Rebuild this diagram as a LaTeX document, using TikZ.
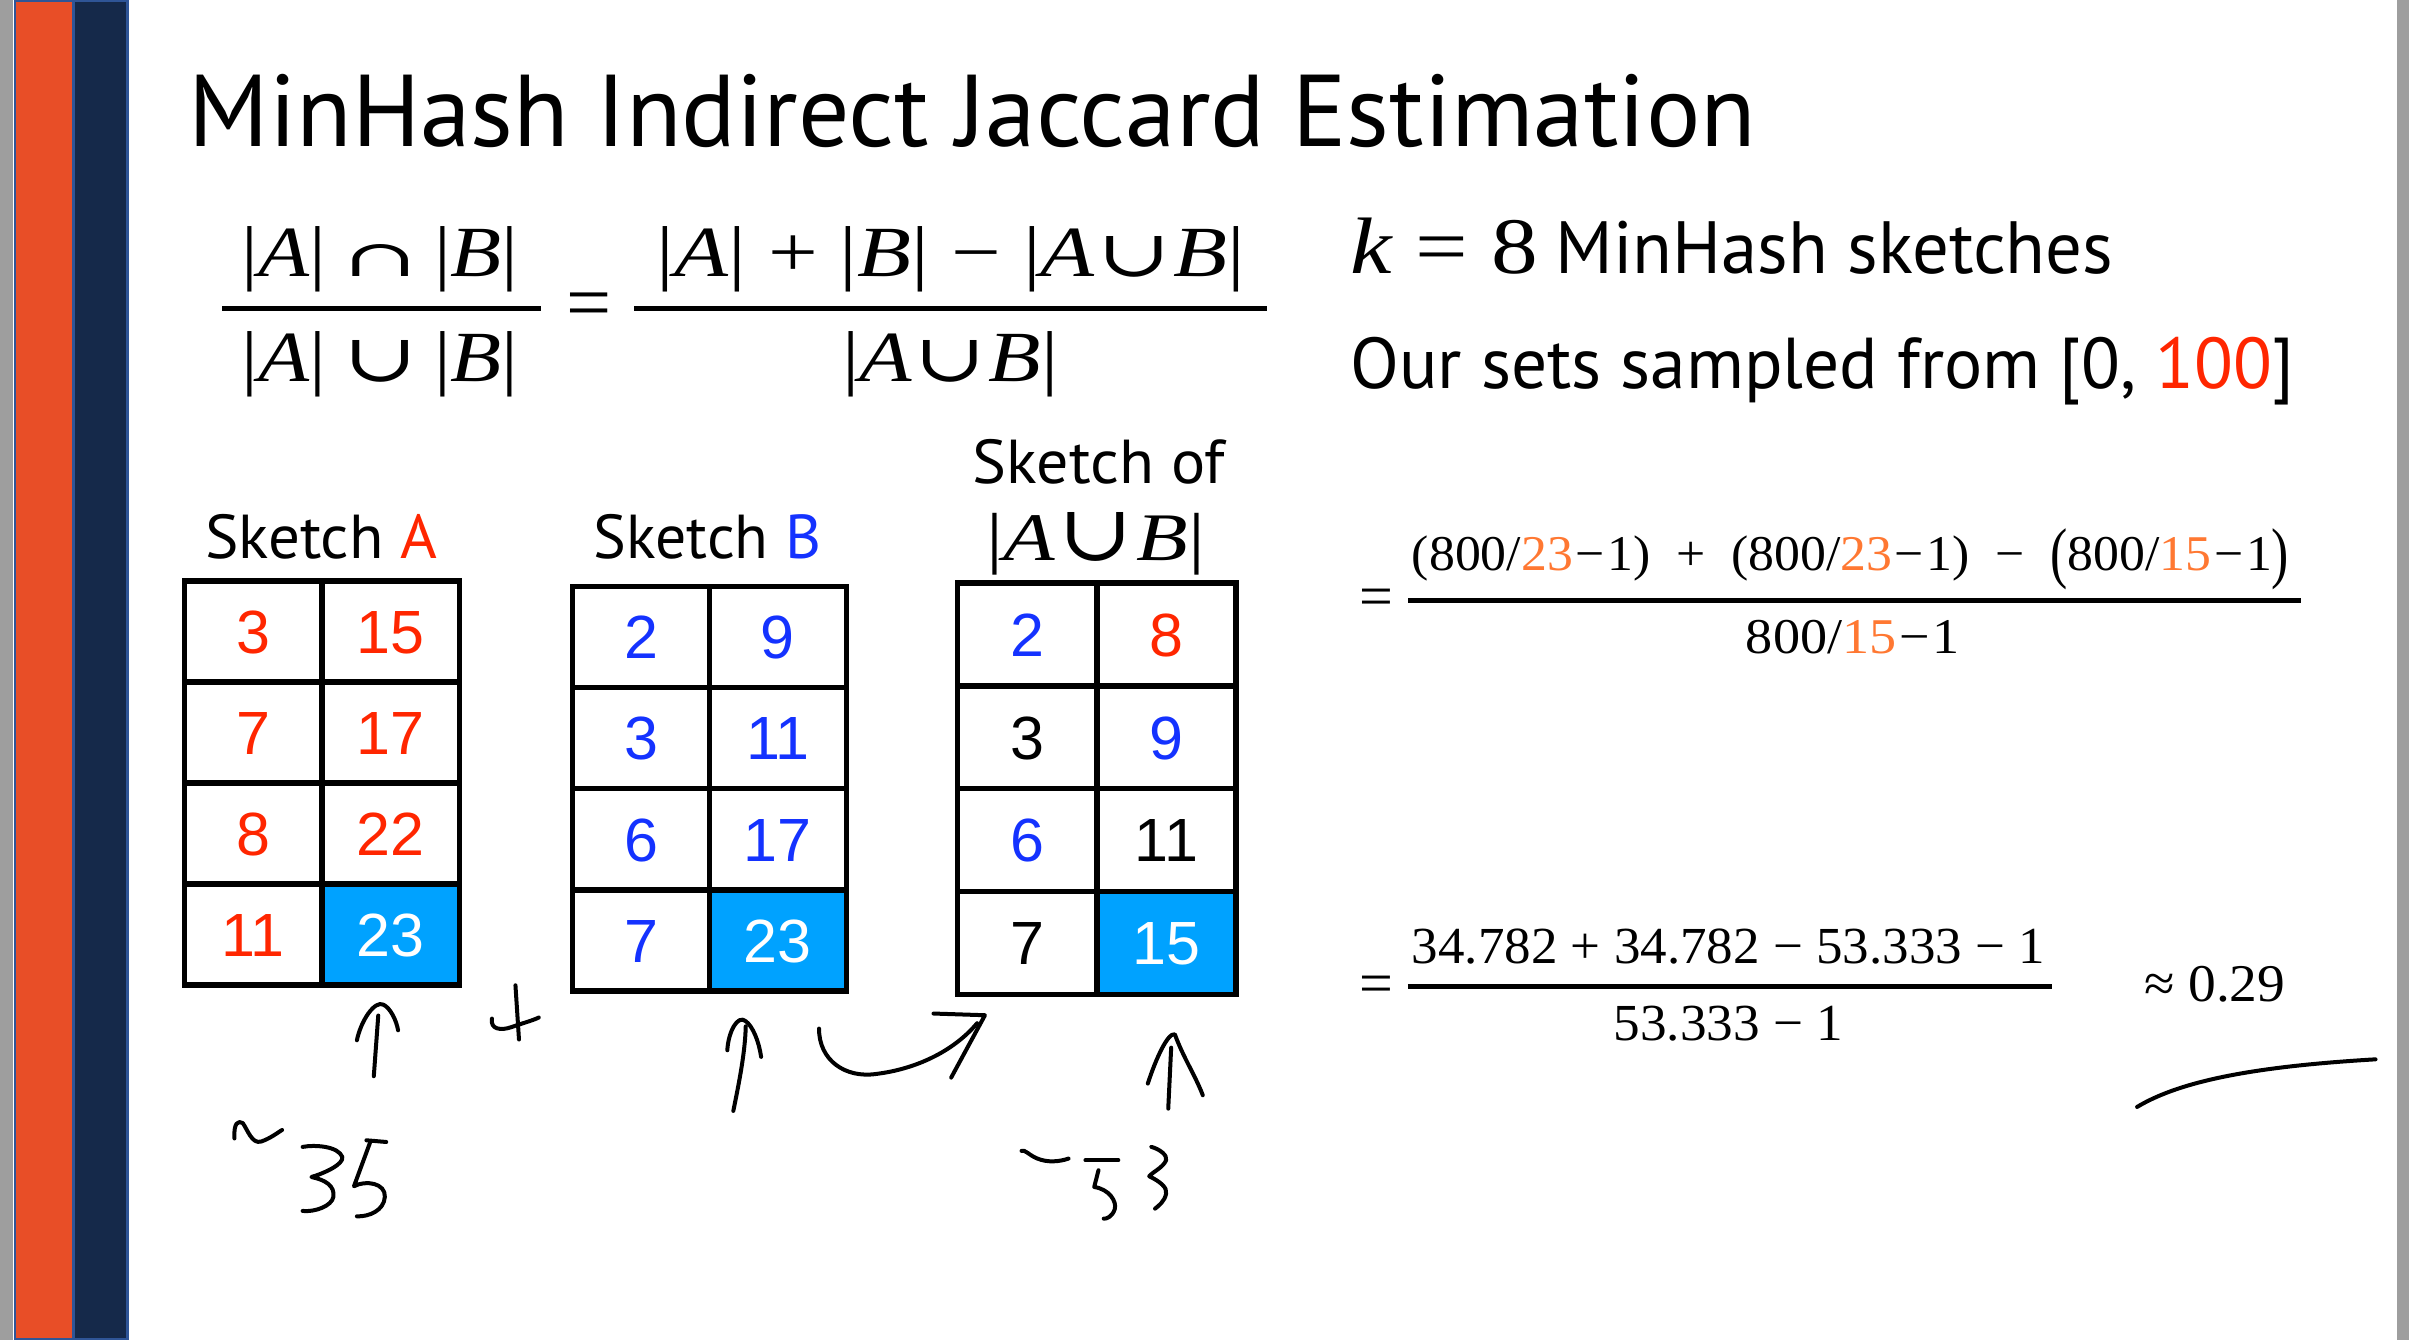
\documentclass[tikz,border=0pt]{standalone}
\usepackage{fontspec}
\usepackage{graphicx}
\setmainfont{PT Sans}
\newfontfamily\tms{Liberation Serif}
\newfontfamily\arl{Liberation Sans}
\newfontfamily\djs{DejaVu Serif}
\newdimen\uu \uu=1.536pt
\definecolor{barorange}{RGB}{232,78,39}
\definecolor{barnavy}{RGB}{21,41,74}
\definecolor{barblue}{RGB}{47,85,151}
\definecolor{bargray}{RGB}{158,158,158}
\definecolor{skred}{RGB}{255,38,0}
\definecolor{skblue}{RGB}{20,50,255}
\definecolor{skcyan}{RGB}{0,162,255}
\definecolor{fmorange}{RGB}{255,120,50}
\newcommand\fitw[2]{\resizebox{#1\uu}{\height}{#2}}
\newcommand\iA{{\itshape A}}
\newcommand\iB{{\itshape B}}
\newcommand\capsym[2]{\resizebox{#1pt}{#2pt}{\djs\fontsize{36pt}{40pt}\selectfont ∩}}
\newcommand\cupsym[2]{\resizebox{#1pt}{#2pt}{\djs\fontsize{46pt}{50pt}\selectfont ∪}}
\newcommand\og[1]{{\color{fmorange}#1}}
\tikzset{
  txt/.style={inner sep=0pt, outer sep=0pt, anchor=base west},
  eqsign/.style={inner sep=0pt, outer sep=0pt, anchor=base},
  cellbox/.style={draw, line width=5.5pt, inner sep=0pt, text height=43.7pt, text depth=0pt, font=\arl\fontsize{61pt}{70pt}\selectfont},
  tabA/.style={cellbox, minimum width=137.4pt, minimum height=100.9pt},
  tabB/.style={cellbox, minimum width=136.9pt, minimum height=101.1pt},
  tabU/.style={cellbox, minimum width=139.2pt, minimum height=102.8pt},
  hot/.style={fill=skcyan, text=white},
  ink/.style={line width=4pt, line cap=round, line join=round},
  fbar/.style={line width=5pt},
}
\begin{document}
\begin{tikzpicture}[x=1.536pt,y=-1.536pt]
\useasboundingbox (0,0) rectangle (1568,872);
\fill[white] (0,0) rectangle (1568,872);
% left bars
\fill[bargray] (0,0) rectangle (8.66,872);
\fill[barblue] (9.11,0) rectangle (83.79,872);
\fill[barorange] (10.42,1.3) rectangle (46.68,870.7);
\fill[barnavy] (48.83,1.3) rectangle (82.03,870.7);
% right strip
\fill[bargray] (1560.4,0) rectangle (1568,872);

% title
\node[txt] (title) at (123,95.5) {\fitw{1020}{\fontsize{102pt}{120pt}\selectfont MinHash Indirect Jaccard Estimation}};

% left formula
\node[txt] (lnum) at (157.5,179.7) {\fitw{180}{\tms\fontsize{72pt}{80pt}\selectfont |\iA|\hspace{0.2em}\capsym{64}{32}\hspace{0.2em}|\iB|}};
\node[txt] (lden) at (157.5,248.5) {\fitw{180}{\tms\fontsize{72pt}{80pt}\selectfont |\iA|\hspace{0.2em}\cupsym{64}{41}\hspace{0.2em}|\iB|}};
\draw[line width=4.7pt] (144.5,200.7) -- (352.2,200.7);
\node[eqsign] (leq) at (383.6,214.5) {\tms\fontsize{80pt}{90pt}\selectfont =};
\node[txt] (rnum) at (427.5,179.7) {\fitw{383}{\tms\fontsize{72pt}{80pt}\selectfont |\iA|\hspace{0.25em}+\hspace{0.25em}|\iB|\hspace{0.25em}−\hspace{0.25em}|\iA\hspace{0.03em}\cupsym{60}{40}\hspace{0.03em}\iB|}};
\draw[line width=4.7pt] (412.8,200.7) -- (824.4,200.7);
\node[txt] (rden) at (548.3,248.5) {\fitw{140.5}{\tms\fontsize{72pt}{80pt}\selectfont |\iA\hspace{0.03em}\cupsym{60}{41}\hspace{0.03em}\iB|}};

% right text
\node[txt] (keq) at (879,178) {\fitw{122}{\tms\fontsize{80pt}{90pt}\selectfont {\itshape k} = 8}};
\node[txt] (ksk) at (1012.5,178) {\fitw{363}{\fontsize{74pt}{85pt}\selectfont MinHash sketches}};
\node[txt] (range) at (879,252.8) {\fitw{614}{\fontsize{72pt}{85pt}\selectfont Our sets sampled from [0, {\color{skred}100}]}};

% sketch labels
\node[txt] (labA) at (133.5,363.2) {\fitw{151}{\fontsize{62pt}{70pt}\selectfont Sketch {\color{skred}A}}};
\node[txt] (labB) at (386.5,363.2) {\fitw{148}{\fontsize{62pt}{70pt}\selectfont Sketch {\color{skblue}B}}};
\node[txt] (labU1) at (633.3,314.5) {\fitw{164}{\fontsize{62pt}{70pt}\selectfont Sketch of}};
\node[txt] (labU2) at (642.4,365) {\fitw{142}{\tms\fontsize{68pt}{80pt}\selectfont |\iA\hspace{0.04em}\cupsym{60}{48}\hspace{0.04em}\iB|}};

% sketch A
\node[tabA, text=skred] (a11) at (164.8,411.15) {3};
\node[tabA, text=skred] (a12) at (254.2,411.15) {15};
\node[tabA, text=skred] (a21) at (164.8,476.85) {7};
\node[tabA, text=skred] (a22) at (254.2,476.85) {17};
\node[tabA, text=skred] (a31) at (164.8,542.55) {8};
\node[tabA, text=skred] (a32) at (254.2,542.55) {22};
\node[tabA, text=skred] (a41) at (164.8,608.25) {11};
\node[tabA, hot] (a42) at (254.2,608.25) {23};

% sketch B
\node[tabB, text=skblue] (b11) at (417.2,414.5) {2};
\node[tabB, text=skblue] (b12) at (506.3,414.5) {9};
\node[tabB, text=skblue] (b21) at (417.2,480.4) {3};
\node[tabB, text=skblue] (b22) at (506.3,480.4) {11};
\node[tabB, text=skblue] (b31) at (417.2,546.2) {6};
\node[tabB, text=skblue] (b32) at (506.3,546.2) {17};
\node[tabB, text=skblue] (b41) at (417.2,612.1) {7};
\node[tabB, hot] (b42) at (506.3,612.1) {23};

% sketch of union
\node[tabU, text=skblue] (u11) at (668.5,413.05) {2};
\node[tabU, text=skred] (u12) at (759.2,413.05) {8};
\node[tabU, text=black] (u21) at (668.5,479.9) {3};
\node[tabU, text=skblue] (u22) at (759.2,479.9) {9};
\node[tabU, text=skblue] (u31) at (668.5,546.8) {6};
\node[tabU, text=black] (u32) at (759.2,546.8) {11};
\node[tabU, text=black] (u41) at (668.5,613.7) {7};
\node[tabU, hot] (u42) at (759.2,613.7) {15};

% right formula 1
\node[eqsign] (eq1) at (895.8,401.2) {\tms\fontsize{60pt}{70pt}\selectfont =};
\node[txt] (f1num) at (919,371.1) {\fitw{571}{\tms\fontsize{50pt}{60pt}\selectfont (800/\og{23}\hspace{0.05em}−\hspace{0.05em}1)\hspace{0.5em}+\hspace{0.5em}(800/\og{23}\hspace{0.05em}−\hspace{0.05em}1)\hspace{0.5em}−\hspace{0.5em}\raisebox{-0.1em}{\scalebox{1}[1.35]{(}}800/\og{15}\hspace{0.05em}−\hspace{0.05em}1\raisebox{-0.1em}{\scalebox{1}[1.35]{)}}}};
\draw[fbar] (916.5,390.6) -- (1497.9,390.6);
\node[txt] (f1den) at (1136.4,425.3) {\fitw{139}{\tms\fontsize{50pt}{60pt}\selectfont 800/\og{15}\hspace{0.05em}−\hspace{0.05em}1}};

% right formula 2
\node[eqsign] (eq2) at (895.8,653) {\tms\fontsize{60pt}{70pt}\selectfont =};
\node[txt] (f2num) at (919,627.2) {\fitw{412}{\tms\fontsize{52pt}{60pt}\selectfont 34.782 + 34.782 − 53.333 − 1}};
\draw[fbar] (916.3,642.1) -- (1335.3,642.1);
\node[txt] (f2den) at (1050.2,677.1) {\fitw{149.5}{\tms\fontsize{52pt}{60pt}\selectfont 53.333 − 1}};
\node[txt] (approx) at (1395.5,651.7) {\fitw{92}{\tms\fontsize{53pt}{60pt}\selectfont ≈ 0.29}};

% handwriting
% arrow under A
\draw[ink] (243.3,700.5) -- (246.2,661);
\draw[ink] (232.3,677.1) .. controls (235,664) and (244,651) .. (249.5,653.9) .. controls (254,656) and (258,664) .. (259.1,670.6);
% plus
\draw[ink] (335.5,641.3) -- (337.8,676.6);
\draw[ink] (320.2,663) .. controls (319,670) and (326,671) .. (333,668.5) .. controls (340,666) and (346,664.5) .. (350.7,662.3);
% arrow under B
\draw[ink] (477.3,723.1) .. controls (481,705) and (485,685) .. (485.4,668);
\draw[ink] (473.4,683.6) .. controls (474,672) and (480,660) .. (485.4,664.7) .. controls (490,668) and (494,678) .. (495.4,687.9);
% curved arrow
\draw[ink] (533.1,669.5) .. controls (533,690) and (550,702) .. (570.4,699) .. controls (595,696) and (620,685) .. (636,666);
\draw[ink] (607.6,659.7) -- (641.1,660.8) -- (619.1,701.4);
% arrow under union
\draw[ink] (760.4,721.6) -- (762.3,681.9);
\draw[ink] (747.1,705.3) .. controls (752,690) and (760,672) .. (764.7,673.2) .. controls (770,688) and (778,700) .. (782.9,712.9);
% ~35
\draw[ink] (152.6,741) .. controls (152,731) and (155,729) .. (158,731) .. controls (161,735) and (164,745) .. (170,743) .. controls (176,741) and (181,737) .. (183.6,735.5);
\draw[ink] (197,746.5) .. controls (205,745) and (220,746) .. (222.8,753) .. controls (224,758) and (210,764) .. (202.7,766.1) .. controls (212,768) and (218,772) .. (217,779) .. controls (216,785) and (205,789) .. (197,788.2);
\draw[ink] (238.5,742.2) -- (251.4,743.3);
\draw[ink] (241,743.3) -- (230.4,772.1) .. controls (238,768) and (251,770) .. (250.5,779) .. controls (250,788) and (240,792) .. (232.3,791.7);
% ~53
\draw[ink] (664.9,749.1) .. controls (667,748) and (670,752) .. (675,754) .. controls (682,757) and (690,756) .. (695.5,754.1);
\draw[ink] (706.5,755.2) -- (727.9,755.2);
\draw[ink] (715,761.7) -- (712.2,772.6) .. controls (722,774) and (727,782) .. (725.6,787) .. controls (724,792) and (720,793.5) .. (718.4,793.2);
\draw[ink] (749.4,746.5) .. controls (755,748) and (760,752) .. (759,755.2) .. controls (757,760) and (750,763) .. (748,765.6) .. controls (755,769) and (760,773) .. (759,777) .. controls (758,782) and (754,785) .. (751.8,786.7);
% underline curve
\draw[ink] (1391,720.5) .. controls (1420,703) and (1470,694) .. (1546.2,689.5);
\end{tikzpicture}
\end{document}
